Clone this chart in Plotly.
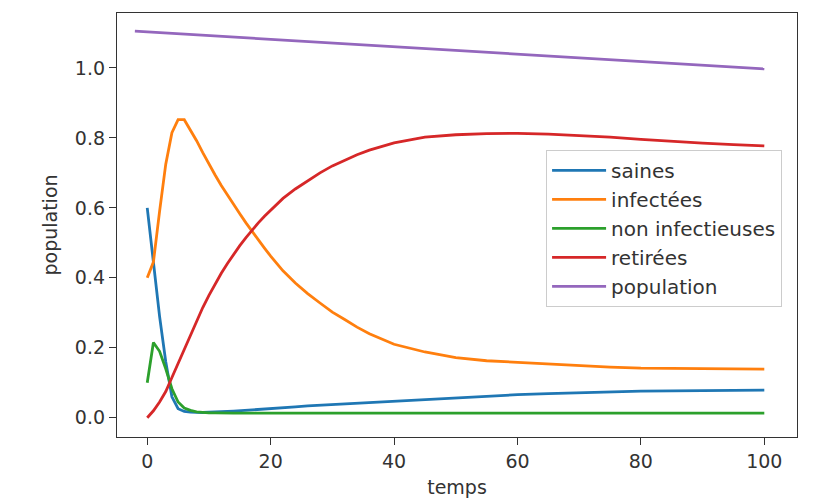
import plotly.graph_objects as go

# Time points (days) shared by the four compartments
temps = [0, 1, 2, 3, 4, 5, 6, 7, 8, 9, 10, 11, 12, 13, 14, 15, 16, 17, 18, 19, 20,
         22, 24, 26, 28, 30, 32, 34, 36, 38, 40,
         45, 50, 55, 60, 65, 70, 75, 80, 85, 90, 95, 100]

saines = [0.60, 0.44, 0.29, 0.16, 0.06, 0.026, 0.018, 0.016, 0.015, 0.015, 0.016,
          0.016, 0.017, 0.018, 0.019, 0.020, 0.021, 0.022, 0.024, 0.025, 0.027,
          0.029, 0.031, 0.034, 0.036, 0.038, 0.040, 0.042, 0.044, 0.046, 0.048,
          0.053, 0.058, 0.062, 0.066, 0.069, 0.072, 0.074, 0.076, 0.077, 0.078, 0.079, 0.079]

infectees = [0.40, 0.445, 0.59, 0.725, 0.815, 0.852, 0.852, 0.823, 0.792, 0.758, 0.725,
             0.694, 0.664, 0.636, 0.609, 0.583, 0.557, 0.532, 0.508, 0.485, 0.462,
             0.42, 0.385, 0.355, 0.328, 0.302, 0.281, 0.259, 0.240, 0.224, 0.21,
             0.188, 0.172, 0.163, 0.158, 0.153, 0.148, 0.145, 0.142, 0.141, 0.140, 0.139, 0.139]

non_infectieuses = [0.10, 0.215, 0.19, 0.14, 0.083, 0.045, 0.028, 0.021, 0.017, 0.015, 0.014,
                    0.014, 0.013, 0.013, 0.013, 0.013, 0.013, 0.013, 0.013, 0.013, 0.013,
                    0.013, 0.013, 0.013, 0.013, 0.013, 0.013, 0.013, 0.013, 0.013, 0.013,
                    0.013, 0.013, 0.013, 0.013, 0.013, 0.013, 0.013, 0.013, 0.013, 0.013, 0.013, 0.013]

retirees = [0.0, 0.02, 0.045, 0.075, 0.115, 0.155, 0.195, 0.237, 0.277, 0.315, 0.35,
            0.383, 0.413, 0.441, 0.467, 0.492, 0.515, 0.537, 0.557, 0.576, 0.594,
            0.627, 0.654, 0.678, 0.70, 0.72, 0.737, 0.752, 0.765, 0.776, 0.786,
            0.802, 0.809, 0.812, 0.813, 0.811, 0.807, 0.802, 0.796, 0.79, 0.785, 0.781, 0.777]

# Total population line
temps_pop = [-2, 100]
population = [1.105, 0.997]

y_ticks = [0.0, 0.2, 0.4, 0.6, 0.8, 1.0]
x_ticks = [0, 20, 40, 60, 80, 100]

FONT = "DejaVu Sans"
INK = "#333333"

series = [
    ("saines", temps, saines, "#1f77b4"),
    ("infectées", temps, infectees, "#ff7f0e"),
    ("non infectieuses", temps, non_infectieuses, "#2ca02c"),
    ("retirées", temps, retirees, "#d62728"),
    ("population", temps_pop, population, "#9467bd"),
]

fig = go.Figure()
for i, (name, x, y, color) in enumerate(series):
    fig.add_trace(go.Scatter(
        x=x, y=y, name=name, mode="lines",
        line=dict(color=color, width=2.8),
        legendgroup=str(i),
    ))

axis_common = dict(
    showgrid=False, zeroline=False, automargin=False,
    showline=True, mirror=True, linecolor=INK, linewidth=1.3,
    ticks="outside", ticklen=7, tickwidth=1.3, tickcolor=INK,
    tickfont=dict(family=FONT, size=19, color=INK),
)

fig.update_layout(
    width=822, height=502,
    margin=dict(l=117, r=25, t=13, b=65),
    paper_bgcolor="white", plot_bgcolor="white",
    font=dict(family=FONT, size=19, color=INK),
    xaxis=dict(range=[-4.9, 105.3], tickvals=x_ticks,
               title=dict(text="temps", standoff=9, font=dict(family=FONT, size=19, color=INK)),
               **axis_common),
    yaxis=dict(range=[-0.055, 1.157], tickvals=y_ticks,
               ticktext=[f"{v:.1f}" for v in y_ticks],
               title=dict(text="population", standoff=12, font=dict(family=FONT, size=19, color=INK)),
               **axis_common),
    legend=dict(
        x=0.631, y=0.677, xanchor="left", yanchor="top",
        bgcolor="white", bordercolor="#cccccc", borderwidth=1,
        font=dict(family=FONT, size=20, color=INK),
        traceorder="grouped", tracegroupgap=0, itemwidth=54,
    ),
)

fig.write_html("out.html")
